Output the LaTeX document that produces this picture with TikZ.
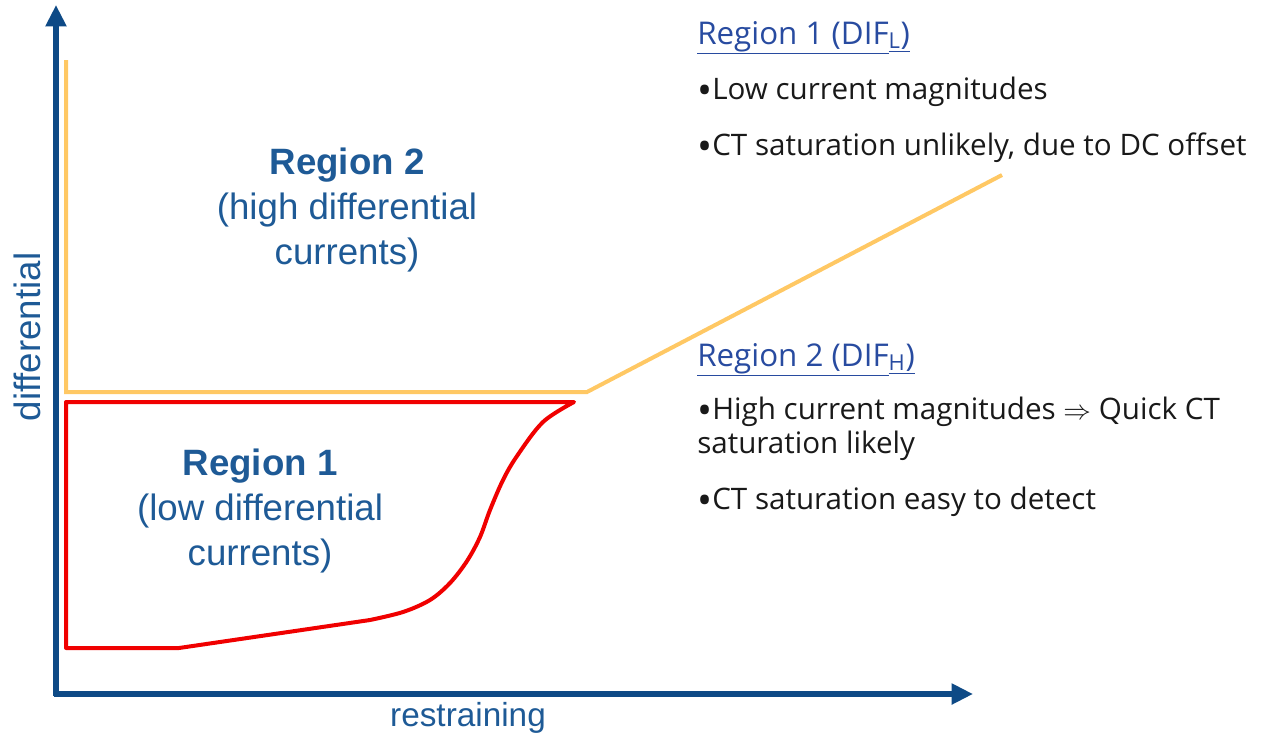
\documentclass[tikz,border=0pt]{standalone}
\usepackage{fontspec}
\setmainfont{Open Sans}
\newfontfamily\labelfont{Liberation Sans}
\usetikzlibrary{arrows.meta}

\definecolor{axisblue}{RGB}{14,74,134}
\definecolor{labelblue}{RGB}{30,90,150}
\definecolor{headblue}{RGB}{40,75,160}
\definecolor{curveyellow}{RGB}{255,200,100}
\definecolor{curvered}{RGB}{240,0,0}
\definecolor{bodytext}{RGB}{25,25,25}

% a slightly heavier list bullet, centred on the x-height
\newcommand{\dotmark}{\raisebox{-0.19em}{\scalebox{1.35}{\textbullet}}}

\tikzset{
  axisline/.style={draw=axisblue, line width=3.8pt, -{Triangle[length=16pt,width=15pt]}},
  axisplain/.style={draw=axisblue, line width=3.8pt},
  axislabel/.style={text=labelblue, inner sep=0pt},
  regionlabel/.style={text=labelblue, align=center, inner sep=0pt,
    font=\labelfont\fontsize{27.5}{34}\selectfont},
  yellowcurve/.style={draw=curveyellow, line width=3pt},
  redcurve/.style={draw=curvered, line width=3pt, line join=round},
  heading/.style={text=headblue, anchor=base west, inner sep=0pt,
    font=\fontsize{23.5}{28}\selectfont},
  bullet/.style={text=bodytext, anchor=base west, inner sep=0pt,
    font=\fontsize{22.2}{26}\selectfont},
}

\begin{document}
\begin{tikzpicture}[x=0.75pt,y=-0.75pt]
  \useasboundingbox (0,0) rectangle (1262,736);

  % axes
  \coordinate (O) at (56,694);
  \coordinate (ytip) at (56,5);
  \coordinate (xtip) at (973,694);
  \draw[axisplain] (56,696) -- (O);
  \draw[axisline] (O) -- (ytip);
  \draw[axisline] (54.1,694) -- (xtip);

  \node[axislabel, font=\labelfont\fontsize{25}{28}\selectfont] (xlab) at (468,718) {restraining};
  \node[axislabel, font=\labelfont\fontsize{27.5}{30}\selectfont, rotate=90] (ylab) at (27,337) {differential};

  % high-differential boundary (yellow)
  \coordinate (y1) at (66,60);
  \coordinate (y2) at (66,392);
  \coordinate (y3) at (587,392);
  \coordinate (y4) at (1002,175);
  \draw[yellowcurve] (y1) -- (y2) -- (y3) -- (y4);

  % low-differential region (red)
  \coordinate (r1) at (66,402);
  \coordinate (r2) at (574,402);
  \coordinate (r3) at (179,648);
  \coordinate (r4) at (66,648);
  \draw[redcurve] (r1) -- (r2)
    -- plot[smooth, tension=0.55] coordinates {(574,402) (543,422) (517,456) (503,480) (490,510) (480,537) (467,561) (450,583) (430,600) (403,612) (370,620)}
    -- (r3) -- (r4) -- cycle;

  % region captions
  \node[regionlabel] (reg2) at (347,210) {\textbf{Region 2}\\(high differential\\currents)};
  \node[regionlabel] (reg1) at (260,511) {\textbf{Region 1}\\(low differential\\currents)};

  % notes on the right
  \node[heading] (h1) at (697,44) {\underline{Region 1 (DIF}\underline{\textsubscript{L}}\underline{)}};
  \node[bullet] (b11) at (697,99) {\dotmark Low current magnitudes};
  \node[bullet] (b12) at (697,155) {\dotmark CT saturation unlikely, due to DC offset};

  \node[heading] (h2) at (697,366) {\underline{Region 2 (DIF}\underline{\textsubscript{H}}\underline{)}};
  \node[bullet] (b21) at (697,419) {\dotmark High current magnitudes $\Rightarrow$ Quick CT};
  \node[bullet] (b21b) at (697,453) {saturation likely};
  \node[bullet] (b22) at (697,509) {\dotmark CT saturation easy to detect};
\end{tikzpicture}
\end{document}
